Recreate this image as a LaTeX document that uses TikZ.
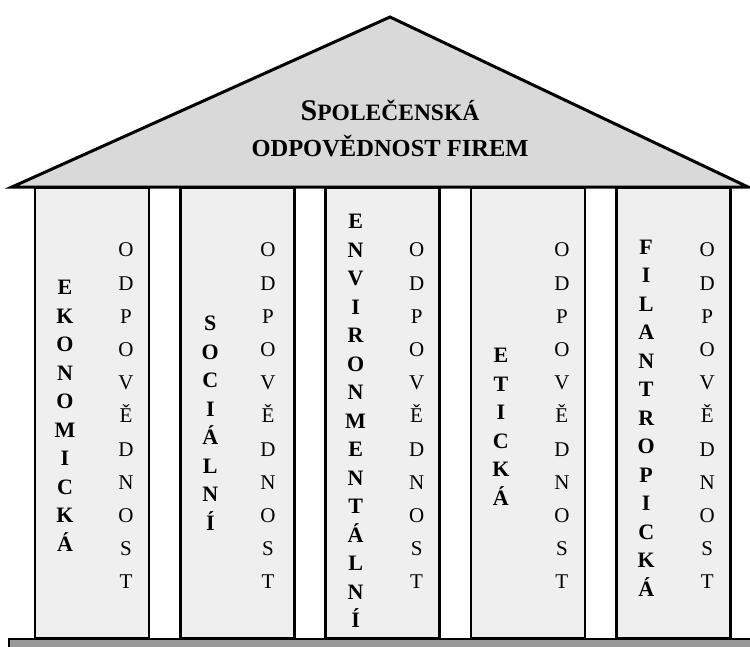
\documentclass[tikz,border=0pt]{standalone}
\usepackage{fontspec}
\setmainfont{Liberation Serif}
\usepackage{tikz}
\usetikzlibrary{positioning}
\definecolor{RoofGray}{RGB}{217,217,217}
\definecolor{PillarGray}{RGB}{239,239,239}
\definecolor{BaseGray}{RGB}{153,153,153}

\begin{document}
\begin{tikzpicture}[x=1pt,y=-1pt,
    pillar/.style={draw,line width=2.6pt,fill=PillarGray,inner sep=0pt,
                   minimum width=114pt,minimum height=450pt},
    boldword/.style={font=\fontsize{22}{28.5}\selectfont\bfseries,
                     align=center,inner sep=0pt},
    plainword/.style={font=\fontsize{21}{33.2}\selectfont,
                      align=center,inner sep=0pt},
    titletext/.style={font=\fontsize{24.5}{30}\selectfont\bfseries,
                      anchor=base,inner sep=0pt}]
  \useasboundingbox (0,0) rectangle (750,646);
  \clip (0,0) rectangle (750,646);
  % Roof
  \draw[fill=RoofGray,line width=3pt,line join=miter,miter limit=20]
    (12,187) -- (390,17) -- (748,187) -- cycle;
  \node[titletext] (spol) at (390,120)
    {{\fontsize{30}{30}\selectfont S}{\fontsize{23.5}{30}\selectfont POLEČENSKÁ}};
  \node[titletext] (odp) at (390,156) {ODPOVĚDNOST FIREM};
  % Pillars
  \node[pillar] (eko) at (92,413) {};
  \node[pillar] (soc) at (237.3,413) {};
  \node[pillar] (env) at (382.6,413) {};
  \node[pillar] (eti) at (527.9,413) {};
  \node[pillar] (fil) at (673.2,413) {};
  % Pillar words
  \node[boldword] (ekoW) at (65,416) {E\\K\\O\\N\\O\\M\\I\\C\\K\\Á};
  \node[boldword] (socW) at (210.3,423) {S\\O\\C\\I\\Á\\L\\N\\Í};
  \node[boldword] (envW) at (355.6,421) {E\\N\\V\\I\\R\\O\\N\\M\\E\\N\\T\\Á\\L\\N\\Í};
  \node[boldword] (etiW) at (500.9,427) {E\\T\\I\\C\\K\\Á};
  \node[boldword] (filW) at (646.2,418) {F\\I\\L\\A\\N\\T\\R\\O\\P\\I\\C\\K\\Á};
  \foreach \n/\x in {eko/126,soc/268,env/416.6,eti/561.9,fil/707.2}
    \node[plainword] (\n O) at (\x,416) {O\\D\\P\\O\\V\\Ě\\D\\N\\O\\S\\T};
  % Base
  \draw[fill=BaseGray,line width=2.6pt] (9,639) rectangle (770,662);
\end{tikzpicture}
\end{document}
